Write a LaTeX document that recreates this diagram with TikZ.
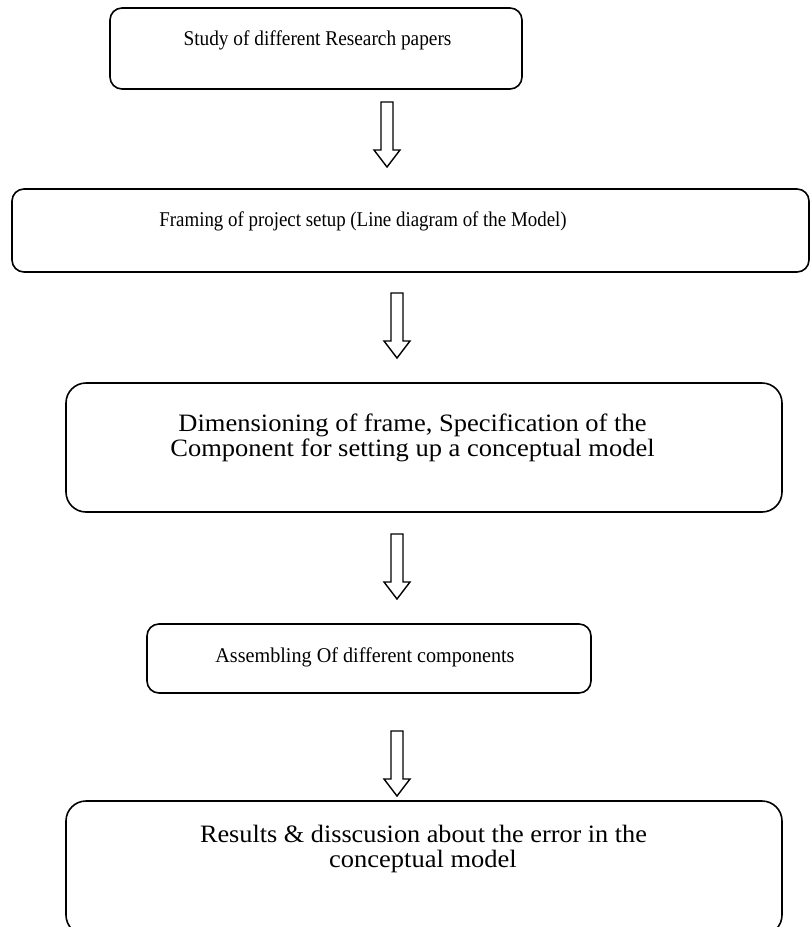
\documentclass[tikz,border=0pt]{standalone}
\usepackage{fontspec}
\usepackage{graphicx}
\setmainfont{Liberation Serif}
\newcommand\hsc[2]{\scalebox{#1}[1]{#2}}
\begin{document}
\begin{tikzpicture}[x=0.5pt,y=-0.5pt,
  stepbox/.style={draw, line width=0.8pt, rounded corners=#1, inner sep=0pt},
  stepbox/.default=6pt,
  lbl/.style={anchor=base, inner sep=0pt, font=\fontsize{#1}{#1}\selectfont},
  lbl/.default=10.5,
  blockarrow/.style={draw, line width=0.7pt, fill=white, line join=miter}]
\useasboundingbox (0,0) rectangle (812,927);
\begin{scope}
\clip (0,0) rectangle (812,927);
% boxes
\node[stepbox, minimum width=206pt, minimum height=40.5pt] (b1) at (316,48.5) {};
\node[stepbox, minimum width=398.5pt, minimum height=41.5pt] (b2) at (410.5,230.5) {};
\node[stepbox=10pt, minimum width=358pt, minimum height=64.5pt] (b3) at (424,447.5) {};
\node[stepbox, minimum width=222pt, minimum height=34.5pt] (b4) at (369,658.5) {};
\node[stepbox=10pt, minimum width=358pt, minimum height=67pt] (b5) at (424,868) {};
% texts
\node[lbl] (t1) at (317.5,45) {\hsc{0.92}{Study of different Research papers}};
\node[lbl] (t2) at (363,226) {\hsc{0.90}{Framing of project setup (Line diagram of the Model)}};
\node[lbl=12.5] (t3a) at (412.5,431) {\hsc{1.06}{Dimensioning of frame, Specification of the}};
\node[lbl=12.5] (t3b) at (412.5,456) {\hsc{1.06}{Component for setting up a conceptual model}};
\node[lbl] (t4) at (365,662) {\hsc{0.96}{Assembling Of different components}};
\node[lbl=12.5] (t5a) at (423.5,842) {\hsc{1.05}{Results \& disscusion about the error in the}};
\node[lbl=12.5] (t5b) at (423,867) {\hsc{1.06}{conceptual model}};
% block arrows
\coordinate (a1) at (387,102);
\coordinate (a2) at (397,293);
\coordinate (a3) at (397,534);
\coordinate (a4) at (397,731);
\foreach \a in {a1,a2,a3,a4}{
  \draw[blockarrow] (\a) ++(-6,0) -- ++(12,0) -- ++(0,48) -- ++(7,0)
    -- ++(-13,17) -- ++(-13,-17) -- ++(7,0) -- cycle;
}
\end{scope}
\end{tikzpicture}
\end{document}
